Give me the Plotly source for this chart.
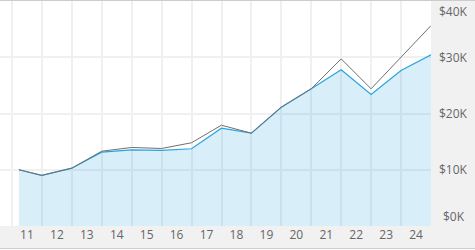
import plotly.graph_objects as go

# Data
dates = ["2011-03-27", "2011-12-31", "2012-12-31", "2013-12-31", "2014-12-31",
         "2015-12-31", "2016-12-31", "2017-12-31", "2018-12-31", "2019-12-31",
         "2020-12-31", "2021-12-31", "2022-12-31", "2023-12-31", "2024-12-31"]
fund = [10000, 8990, 10280, 13130, 13550, 13430, 13730, 17390, 16500, 21120,
        24390, 27760, 23370, 27640, 30430]
benchmark = [10000, 8990, 10280, 13300, 13960, 13780, 14800, 17920, 16500, 21120,
             24390, 29710, 24390, 30020, 35630]
y_tick_values = [0, 10000, 20000, 30000, 40000]
y_tick_labels = ["$0K", "$10K", "$20K", "$30K", "$40K"]

FONT = "Open Sans"
TXT = "#666666"

fig = go.Figure()
fig.add_trace(go.Scatter(
    x=dates, y=fund, mode="lines", fill="tozeroy",
    fillcolor="rgba(41,163,224,0.18)",
    line=dict(color="#29a3e0", width=1.2),
    hoverinfo="skip", showlegend=False,
))
fig.add_trace(go.Scatter(
    x=dates, y=benchmark, mode="lines",
    line=dict(color="#707070", width=1),
    hoverinfo="skip", showlegend=False,
))

annotations = []
n = len(y_tick_values)
for i, (v, t) in enumerate(zip(y_tick_values, y_tick_labels)):
    shift = 10 if i == 0 else (-10.5 if i == n - 1 else 0)
    annotations.append(dict(
        x=1, xref="paper", xanchor="center", xshift=22.7,
        y=v, yref="y", yanchor="middle", yshift=shift,
        text=t, showarrow=False,
        font=dict(family=FONT, size=12, color=TXT),
    ))

plot_top = 1
plot_bottom = 226
plot_h = plot_bottom - plot_top

def py(pixel_y):
    return (plot_bottom - pixel_y) / plot_h

fig.update_layout(
    width=475, height=250,
    margin=dict(l=0, r=44, t=plot_top, b=250 - plot_bottom),
    paper_bgcolor="#f1f1f1",
    plot_bgcolor="#ffffff",
    annotations=annotations,
    xaxis=dict(
        type="date",
        range=["2010-08-08", "2024-12-31"],
        tick0="2011-01-01", dtick="M12",
        ticklabelmode="period", tickformat="%y",
        showgrid=True, gridcolor="#f0f0f0", gridwidth=2,
        zeroline=False, showline=False, ticks="",
        tickfont=dict(family=FONT, size=12, color=TXT),
        fixedrange=True,
    ),
    yaxis=dict(
        range=[0, 40000], dtick=10000,
        showgrid=True, gridcolor="#f0f0f0", gridwidth=2,
        zeroline=False, showline=False, showticklabels=False, ticks="",
        fixedrange=True,
    ),
    shapes=[
        dict(type="line", xref="paper", yref="paper", x0=0, x1=1.2,
             y0=py(0.5), y1=py(0.5), line=dict(color="#cccccc", width=1)),
        dict(type="line", xref="paper", yref="paper", x0=0, x1=1.2,
             y0=py(248.5), y1=py(248.5), line=dict(color="#cccccc", width=1)),
        dict(type="line", xref="paper", yref="paper", x0=0, x1=1.2,
             y0=py(249.5), y1=py(249.5), line=dict(color="#ffffff", width=1)),
    ],
)

fig.write_html("out.html")
